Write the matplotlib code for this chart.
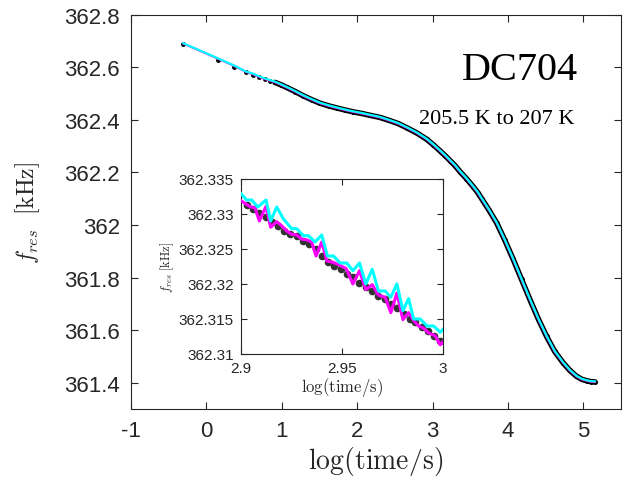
import numpy as np
import matplotlib
matplotlib.use("Agg")
import matplotlib.pyplot as plt

plt.rcParams['mathtext.fontset'] = 'cm'
plt.rcParams['font.family'] = ['Liberation Sans', 'DejaVu Sans']

# main panel: measured data (black) and the two fits
data_x = [-0.306, 0.158, 0.370, 0.521, 0.622, 0.702, 0.777, 0.844, 0.910,
          0.990, 1.065, 1.180, 1.286, 1.400, 1.507, 1.620, 1.728, 1.840,
          1.948, 2.060, 2.170, 2.300, 2.420, 2.540, 2.656, 2.790, 2.921,
          3.010, 3.098, 3.165, 3.231, 3.300, 3.363, 3.450, 3.540, 3.600,
          3.651, 3.750, 3.850, 3.960, 4.070, 4.180, 4.292, 4.400, 4.513,
          4.620, 4.734, 4.820, 4.911, 4.980, 5.050, 5.100, 5.154]
data_y = [362.689, 362.628, 362.601, 362.580, 362.571, 362.561, 362.554,
          362.548, 362.542, 362.533, 362.523, 362.507, 362.491, 362.476,
          362.463, 362.453, 362.445, 362.437, 362.430, 362.424, 362.417,
          362.409, 362.398, 362.386, 362.370, 362.350, 362.326, 362.305,
          362.282, 362.264, 362.245, 362.225, 362.203, 362.176, 362.145,
          362.123, 362.100, 362.056, 362.008, 361.941, 361.869, 361.793,
          361.716, 361.644, 361.576, 361.519, 361.475, 361.447, 361.424,
          361.413, 361.407, 361.404, 361.403]
fit1_y = [362.690, 362.632, 362.605, 362.583, 362.573, 362.563, 362.555,
          362.549, 362.543, 362.533, 362.523, 362.507, 362.491, 362.476,
          362.463, 362.453, 362.445, 362.437, 362.430, 362.424, 362.417,
          362.409, 362.398, 362.386, 362.370, 362.350, 362.326, 362.305,
          362.282, 362.264, 362.245, 362.225, 362.203, 362.176, 362.145,
          362.123, 362.100, 362.056, 362.008, 361.941, 361.869, 361.793,
          361.716, 361.644, 361.576, 361.519, 361.475, 361.447, 361.424,
          361.413, 361.407, 361.404, 361.403]
fit2_y = [362.691, 362.633, 362.606, 362.584, 362.575, 362.565, 362.557,
          362.551, 362.545, 362.535, 362.525, 362.509, 362.493, 362.478,
          362.465, 362.455, 362.447, 362.439, 362.432, 362.426, 362.419,
          362.411, 362.400, 362.388, 362.372, 362.352, 362.328, 362.307,
          362.284, 362.266, 362.247, 362.227, 362.205, 362.178, 362.147,
          362.125, 362.102, 362.058, 362.010, 361.943, 361.871, 361.795,
          361.718, 361.646, 361.578, 361.521, 361.477, 361.449, 361.426,
          361.415, 361.409, 361.406, 361.405]

# inset: zoom on 2.9 .. 3.0
ins_x = [2.9031, 2.9061, 2.9091, 2.9124, 2.9154, 2.9185, 2.9215, 2.9245,
         2.9276, 2.9309, 2.9339, 2.9370, 2.9400, 2.9433, 2.9463, 2.9493,
         2.9524, 2.9554, 2.9585, 2.9618, 2.9648, 2.9681, 2.9711, 2.9742,
         2.9772, 2.9805, 2.9835, 2.9864, 2.9896, 2.9926, 2.9957, 2.9987]
ins_y = [362.3313, 362.3307, 362.3301, 362.3295, 362.3288, 362.3283,
         362.3276, 362.3271, 362.3269, 362.3262, 362.3257, 362.3250,
         362.3240, 362.3231, 362.3226, 362.3221, 362.3214, 362.3210,
         362.3202, 362.3195, 362.3190, 362.3183, 362.3179, 362.3171,
         362.3165, 362.3157, 362.3150, 362.3145, 362.3138, 362.3133,
         362.3126, 362.3119]
mag_x = [2.9000, 2.9048, 2.9069, 2.9091, 2.9124, 2.9147, 2.9177, 2.9202,
         2.9226, 2.9251, 2.9276, 2.9301, 2.9326, 2.9350, 2.9372, 2.9400,
         2.9425, 2.9455, 2.9488, 2.9521, 2.9554, 2.9587, 2.9618, 2.9650,
         2.9681, 2.9714, 2.9742, 2.9772, 2.9802, 2.9830, 2.9855, 2.9879,
         2.9904, 2.9929, 2.9962, 2.9987, 3.0000]
mag_y = [362.3319, 362.3310, 362.3309, 362.3290, 362.3311, 362.3281,
         362.3289, 362.3283, 362.3276, 362.3271, 362.3270, 362.3264,
         362.3263, 362.3260, 362.3240, 362.3260, 362.3233, 362.3231,
         362.3227, 362.3222, 362.3200, 362.3219, 362.3192, 362.3199,
         362.3184, 362.3181, 362.3159, 362.3187, 362.3149, 362.3159,
         362.3148, 362.3140, 362.3137, 362.3130, 362.3126, 362.3113,
         362.3117]
cyan_x = [2.9000, 2.9028, 2.9053, 2.9083, 2.9124, 2.9147, 2.9177, 2.9210,
          2.9251, 2.9276, 2.9309, 2.9334, 2.9367, 2.9400, 2.9428, 2.9458,
          2.9491, 2.9524, 2.9554, 2.9587, 2.9618, 2.9650, 2.9681, 2.9714,
          2.9742, 2.9772, 2.9802, 2.9830, 2.9855, 2.9888, 2.9921, 2.9954,
          2.9987, 3.0000]
cyan_y = [362.3329, 362.3320, 362.3320, 362.3310, 362.3320, 362.3290,
          362.3310, 362.3293, 362.3279, 362.3279, 362.3269, 362.3269,
          362.3260, 362.3270, 362.3240, 362.3240, 362.3230, 362.3230,
          362.3219, 362.3230, 362.3200, 362.3221, 362.3190, 362.3190,
          362.3181, 362.3200, 362.3162, 362.3179, 362.3150, 362.3150,
          362.3140, 362.3140, 362.3131, 362.3135]

main_xticks = [-1, 0, 1, 2, 3, 4, 5]
main_yticks = [361.4, 361.6, 361.8, 362, 362.2, 362.4, 362.6, 362.8]
main_yticklabels = ['361.4', '361.6', '361.8', '362', '362.2', '362.4', '362.6', '362.8']
ins_xticks = [2.9, 2.95, 3]
ins_yticks = [362.31, 362.315, 362.32, 362.325, 362.33, 362.335]
ins_yticklabels = ['362.31', '362.315', '362.32', '362.325', '362.33', '362.335']

axcol = '#262626'

fig = plt.figure(figsize=(6.35, 4.81), dpi=100)
ax = fig.add_axes([0.2063, 0.1476, 0.7717, 0.820])

ax.plot(data_x[8:], data_y[8:], '-', color='k', lw=4, zorder=2,
        solid_capstyle='round')
ax.plot(data_x, data_y, 'o', color='k', ms=2.5, zorder=2)
ax.plot(data_x, fit1_y, '-', color='#ff00ff', lw=1.6, zorder=3)
ax.plot(data_x, fit2_y, '-', color='#00ffff', lw=1.6, zorder=4)

ax.set_xlim(-1, 5.5)
ax.set_ylim(361.3, 362.8)
ax.set_xticks(main_xticks)
ax.set_xticklabels([str(t) for t in main_xticks])
ax.set_yticks(main_yticks)
ax.set_yticklabels(main_yticklabels)
ax.tick_params(direction='in', top=True, right=True, length=5, width=0.8,
               labelsize=16, colors=axcol, pad=8)
for s in ax.spines.values():
    s.set_color(axcol)
    s.set_linewidth(0.8)
ax.set_xlabel(r'$\mathrm{log(time/s)}$', fontsize=20, color=axcol, labelpad=2)
ax.set_ylabel(r'$f_{res}$  $\mathrm{[kHz]}$', fontsize=17, color=axcol, labelpad=16)

ax.text(0.912, 0.862, 'DC704', transform=ax.transAxes, ha='right', va='center',
        fontsize=29, family='Liberation Serif')
ax.text(0.906, 0.736, '205.5 K to 207 K', transform=ax.transAxes, ha='right',
        va='center', fontsize=16, family='Liberation Serif')

ins = fig.add_axes([0.3795, 0.262, 0.318, 0.3638])
ins.plot(ins_x, ins_y, 'o', color='#333333', ms=4.5, zorder=2)
ins.plot(mag_x, mag_y, '-', color='#ff00ff', lw=2.2, zorder=3)
ins.plot(cyan_x, cyan_y, '-', color='#00ffff', lw=2.2, zorder=4)
ins.set_xlim(2.9, 3.0)
ins.set_ylim(362.31, 362.335)
ins.set_xticks(ins_xticks)
ins.set_xticklabels(['2.9', '2.95', '3'])
ins.set_yticks(ins_yticks)
ins.set_yticklabels(ins_yticklabels)
ins.tick_params(direction='in', top=True, right=True, length=4, width=0.8,
                labelsize=11, colors=axcol, pad=5)
for s in ins.spines.values():
    s.set_color(axcol)
    s.set_linewidth(0.8)
ins.set_xlabel(r'$\mathrm{log(time/s)}$', fontsize=12, color=axcol, labelpad=0)
ins.set_ylabel(r'$f_{res}$ $\mathrm{[kHz]}$', fontsize=9, color=axcol, labelpad=2)

fig.savefig('out.png', dpi=100)
